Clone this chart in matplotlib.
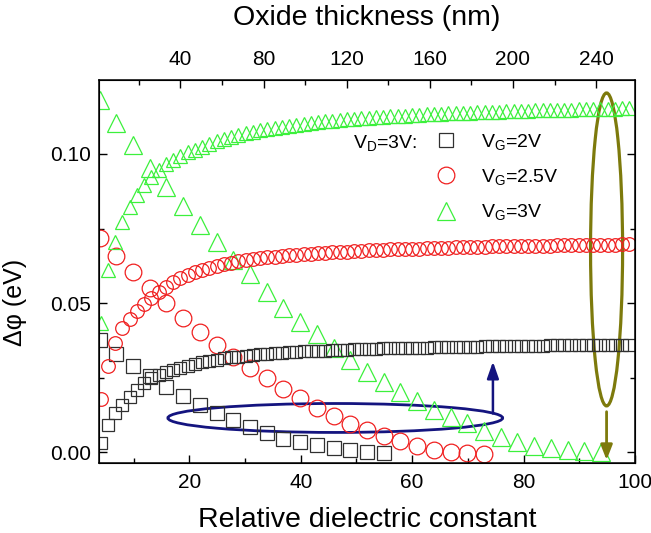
import numpy as np
import matplotlib
matplotlib.use("Agg")
import matplotlib.pyplot as plt
from matplotlib.patches import Ellipse

plt.rcParams["font.family"] = ["Liberation Sans", "DejaVu Sans"]
plt.rcParams["mathtext.fontset"] = "custom"
plt.rcParams["mathtext.rm"] = "Liberation Sans"
plt.rcParams["mathtext.it"] = "Liberation Sans:italic"

# dense series: dphi against relative dielectric constant
k_dense = np.round(np.arange(74) * 1.3 + 4.1, 2)

vg2_up = [0.0030, 0.0092, 0.0130, 0.0158, 0.0186, 0.0210, 0.0232, 0.0249, 0.0259, 0.0268,
          0.0276, 0.0283, 0.0290, 0.0297, 0.0302, 0.0307, 0.0311, 0.0315, 0.0318, 0.0321,
          0.0324, 0.0326, 0.0328, 0.0330, 0.0332, 0.0333, 0.0335, 0.0336, 0.0338, 0.0339,
          0.0340, 0.0341, 0.0342, 0.0343, 0.0344, 0.0345, 0.0345, 0.0346, 0.0347, 0.0348,
          0.0348, 0.0349, 0.0349, 0.0350, 0.0351, 0.0351, 0.0352, 0.0352, 0.0353, 0.0353,
          0.0353, 0.0354, 0.0354, 0.0355, 0.0355, 0.0355, 0.0356, 0.0356, 0.0356, 0.0357,
          0.0357, 0.0357, 0.0358, 0.0358, 0.0358, 0.0358, 0.0359, 0.0359, 0.0359, 0.0359,
          0.0360, 0.0360, 0.0360, 0.0360]

vg25_up = [0.0180, 0.0290, 0.0365, 0.0415, 0.0448, 0.0475, 0.0498, 0.0518, 0.0537, 0.0553,
           0.0570, 0.0584, 0.0595, 0.0604, 0.0612, 0.0619, 0.0625, 0.0630, 0.0635, 0.0640,
           0.0644, 0.0647, 0.0650, 0.0653, 0.0656, 0.0658, 0.0660, 0.0662, 0.0664, 0.0666,
           0.0668, 0.0669, 0.0671, 0.0672, 0.0673, 0.0675, 0.0676, 0.0677, 0.0678, 0.0679,
           0.0680, 0.0681, 0.0682, 0.0682, 0.0683, 0.0684, 0.0685, 0.0685, 0.0686, 0.0687,
           0.0687, 0.0688, 0.0689, 0.0689, 0.0690, 0.0690, 0.0691, 0.0691, 0.0692, 0.0692,
           0.0692, 0.0693, 0.0693, 0.0694, 0.0694, 0.0694, 0.0695, 0.0695, 0.0695, 0.0696,
           0.0696, 0.0696, 0.0697, 0.0697]

vg3_up = [0.0435, 0.0610, 0.0705, 0.0772, 0.0822, 0.0862, 0.0895, 0.0923, 0.0946, 0.0965,
          0.0980, 0.0993, 0.1005, 0.1015, 0.1025, 0.1034, 0.1043, 0.1050, 0.1057, 0.1064,
          0.1069, 0.1075, 0.1079, 0.1084, 0.1088, 0.1092, 0.1095, 0.1098, 0.1101, 0.1104,
          0.1107, 0.1109, 0.1111, 0.1114, 0.1116, 0.1118, 0.1119, 0.1121, 0.1123, 0.1124,
          0.1126, 0.1127, 0.1129, 0.1130, 0.1131, 0.1133, 0.1134, 0.1135, 0.1136, 0.1137,
          0.1138, 0.1139, 0.1140, 0.1141, 0.1141, 0.1142, 0.1143, 0.1144, 0.1144, 0.1145,
          0.1146, 0.1146, 0.1147, 0.1148, 0.1148, 0.1149, 0.1150, 0.1150, 0.1151, 0.1151,
          0.1152, 0.1152, 0.1153, 0.1153]

# sparse series: dphi falling with oxide thickness
k_sparse = np.round(np.arange(31) * 3.0 + 3.9, 2)

vg2_down = [0.0378, 0.0330, 0.0290, 0.0255, 0.0220, 0.0188, 0.0160, 0.0132, 0.0108, 0.0086,
            0.0065, 0.0046, 0.0033, 0.0024, 0.0016, 0.0006, 0.0000, -0.0004]

vg25_down = [0.0717, 0.0658, 0.0603, 0.0550, 0.0502, 0.0449, 0.0404, 0.0360, 0.0320, 0.0281,
             0.0248, 0.0211, 0.0181, 0.0150, 0.0122, 0.0096, 0.0074, 0.0055, 0.0037, 0.0021,
             0.0009, 0.0001, -0.0003, -0.0005]

vg3_down = [0.1180, 0.1105, 0.1030, 0.0952, 0.0890, 0.0827, 0.0762, 0.0704, 0.0646, 0.0596,
            0.0538, 0.0485, 0.0438, 0.0395, 0.0351, 0.0309, 0.0270, 0.0237, 0.0203, 0.0172,
            0.0143, 0.0119, 0.0098, 0.0072, 0.0052, 0.0036, 0.0021, 0.0013, 0.0008, 0.0003,
            0.0002]

labels = [r"V$_\mathrm{G}$=2V", r"V$_\mathrm{G}$=2.5V", r"V$_\mathrm{G}$=3V"]

c_sq = "#303030"
c_ci = "#f02020"
c_tr = "#3cf03c"
c_navy = "#14147f"
c_olive = "#7d7a0c"

fig = plt.figure(figsize=(6.51, 5.33), dpi=100)
ax = fig.add_axes([0.1525, 0.1313, 0.8229, 0.7186])

style = dict(linestyle="none", markerfacecolor="none", markeredgewidth=0.9)

ax.plot(k_sparse[:len(vg2_down)], vg2_down, marker="s", ms=10.6, mec=c_sq, **style)
ax.plot(k_sparse[:len(vg25_down)], vg25_down, marker="o", ms=12.0, mec=c_ci, **style)
ax.plot(k_sparse[:len(vg3_down)], vg3_down, marker="^", ms=13.5, mec=c_tr, **style)

ax.plot(k_dense, vg2_up, marker="s", ms=8.5, mec=c_sq, **style)
ax.plot(k_dense, vg25_up, marker="o", ms=9.8, mec=c_ci, **style)
ax.plot(k_dense, vg3_up, marker="^", ms=10.5, mec=c_tr, **style)

ax.set_xlim(3.84, 100)
ax.set_ylim(-0.0036, 0.1248)
ax.set_xticks([20, 40, 60, 80, 100])
ax.set_xticks([10, 30, 50, 70, 90], minor=True)
ax.set_yticks([0.0, 0.05, 0.10])
ax.set_yticks([0.025, 0.075], minor=True)
ax.set_yticklabels(["0.00", "0.05", "0.10"])
ax.tick_params(which="both", direction="in", right=True, width=1.0, labelsize=15)
ax.tick_params(axis="x", which="both", pad=7)
ax.tick_params(axis="y", which="both", pad=6)
ax.tick_params(which="major", length=6)
ax.tick_params(which="minor", length=3.5)
for sp in ax.spines.values():
    sp.set_linewidth(1.1)

ax.set_xlabel("Relative dielectric constant", fontsize=20.5, labelpad=11)
ax.set_ylabel("\u0394\u03c6 (eV)", fontsize=18, labelpad=8)
ax.yaxis.set_label_coords(-0.135, 0.42)

top = ax.twiny()
top.set_xlim(0.93, 258.7)
top.set_xticks([40, 80, 120, 160, 200, 240])
top.set_xticks([20, 60, 100, 140, 180, 220], minor=True)
top.tick_params(which="both", direction="in", width=1.0, labelsize=15, pad=8)
top.tick_params(which="major", length=6)
top.tick_params(which="minor", length=3.5)
top.set_xlabel("Oxide thickness (nm)", fontsize=20.5, labelpad=18)

# legend
handles = ax.get_lines()[:3]
ax.legend(handles, labels, loc="upper left", bbox_to_anchor=(0.63, 0.864),
          frameon=False, fontsize=14, handlelength=1.0, handletextpad=1.3,
          borderpad=0, borderaxespad=0, labelspacing=0.78)
ax.text(0.473, 0.835, r"V$_\mathrm{D}$=3V:", transform=ax.transAxes,
        fontsize=14, va="center", ha="left")

# annotations
ax.add_patch(Ellipse((46.2, 0.0115), 60.1, 0.0097, fill=False, ec=c_navy, lw=2.0))
ax.annotate("", xy=(74.5, 0.0304), xytext=(74.5, 0.0130),
            arrowprops=dict(arrowstyle="-|>,head_width=0.35,head_length=1.0",
                            color=c_navy, lw=1.8, shrinkA=0, shrinkB=0))
ax.add_patch(Ellipse((94.9, 0.068), 5.75, 0.1049, fill=False, ec=c_olive, lw=2.3))
ax.annotate("", xy=(94.9, -0.0026), xytext=(94.9, 0.0136),
            arrowprops=dict(arrowstyle="-|>,head_width=0.35,head_length=0.9",
                            color=c_olive, lw=2.0, shrinkA=0, shrinkB=0))

fig.savefig("out.png", dpi=100)
